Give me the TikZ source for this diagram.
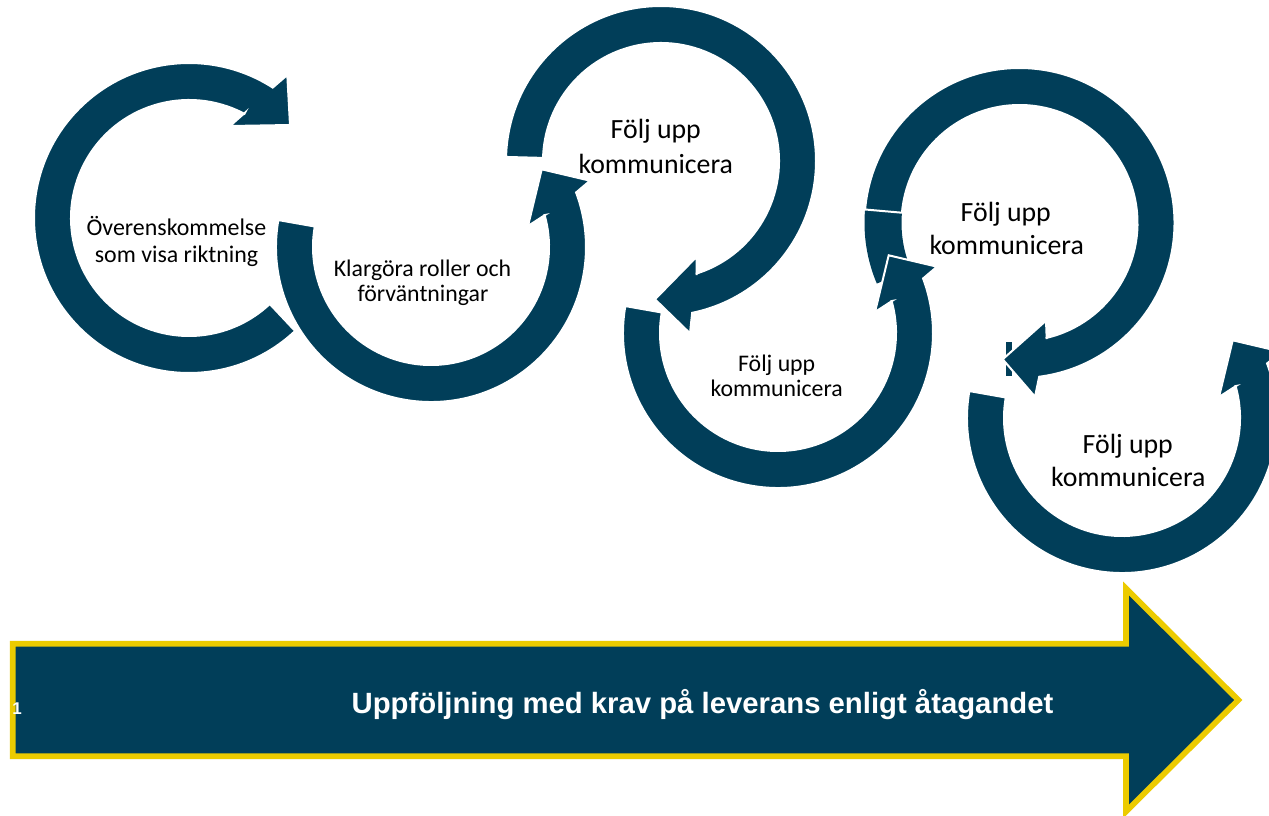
\documentclass[tikz,border=0pt]{standalone}
\usepackage{fontspec}
\setmainfont{Carlito}
\newfontfamily\arialfont{Liberation Sans}
\usetikzlibrary{calc}
\definecolor{navy}{RGB}{1,62,89}
\definecolor{gold}{RGB}{236,203,0}
\tikzset{
  ring/.style={fill=navy, draw=white, line width=2pt, line join=miter},
  plainring/.style={fill=navy},
  lbl/.style={inner sep=0pt, anchor=base, text=black},
  bigarrow/.style={fill=navy, draw=gold, line width=5.7pt, line join=miter},
}
\newcommand\smalltxt{\fontsize{23.8}{26}\selectfont}
\newcommand\bigtxt{\fontsize{27.8}{32}\selectfont}
\begin{document}
\begin{tikzpicture}[x=1pt,y=1pt]
\clip (0,0) rectangle (1269,-816);
\fill[white] (0,0) rectangle (1269,-816);
% centres
\coordinate (c1) at (189,-218);
\coordinate (c2) at (431,-247);
\coordinate (c3) at (661,-161);
\coordinate (c4) at (778,-333);
\coordinate (c5) at (1019.5,-223);
\coordinate (c6) at (1122,-418);
% circle 1
\path[ring] ($(c1)+(-46.8:155pt)$) arc[start angle=-46.8, end angle=-302.7, radius=155pt]
  -- (287.3,-75) -- (290,-125) -- (230,-126) -- (245,-112.7)
  -- ($(c1)+(62:118pt)$) arc[start angle=-298, end angle=-46.8, radius=118pt] -- cycle;
% circle 2
\path[ring] ($(c2)+(170:155pt)$) arc[start angle=170, end angle=380.6, radius=155pt]
  -- (590,-180.7) -- (541.7,-169.3) -- (528,-226) -- (545,-215)
  -- ($(c2)+(15.7:118pt)$) arc[start angle=375.7, end angle=170, radius=118pt] -- cycle;
% circle 3
\path[ring] ($(c3)+(178.5:155pt)$) arc[start angle=178.5, end angle=-78.4, radius=155pt]
  -- (690,-333.3) -- (655,-299.3) -- (696.7,-256.7) -- (696.7,-275)
  -- ($(c3)+(-72.5:118pt)$) arc[start angle=-72.5, end angle=178.5, radius=118pt] -- cycle;
% circle 5 (extra piece, small bar, main)
\path[plainring] ($(c5)+(175:155pt)$) arc[start angle=175, end angle=203, radius=155pt]
  -- ($(c5)+(203:118pt)$) arc[start angle=203, end angle=175, radius=118pt] -- cycle;
\path[ring] (1005,-341) rectangle (1013,-377);
\path[ring] ($(c5)+(175:155pt)$) arc[start angle=175, end angle=-82.7, radius=155pt]
  -- (1035,-396.7) -- (1002.7,-359.3) -- (1046,-320.7) -- (1046.7,-339)
  -- ($(c5)+(-76.8:118pt)$) arc[start angle=-76.8, end angle=175, radius=118pt] -- cycle;
% circle 4
\path[ring] ($(c4)+(170:155pt)$) arc[start angle=170, end angle=380.6, radius=155pt]
  -- (937,-266.7) -- (888.7,-255.3) -- (875,-312) -- (892,-301)
  -- ($(c4)+(15.7:118pt)$) arc[start angle=375.7, end angle=170, radius=118pt] -- cycle;
% circle 6
\path[ring] ($(c6)+(170:155pt)$) arc[start angle=170, end angle=380.6, radius=155pt]
  -- (1281,-351.7) -- (1232.7,-340.3) -- (1219,-397) -- (1236,-386)
  -- ($(c6)+(15.7:118pt)$) arc[start angle=375.7, end angle=170, radius=118pt] -- cycle;
% texts
\node[lbl] (t1a) at (176.4,-235) {\fontsize{23.9}{26}\selectfont Överenskommelse};
\node[lbl] (t1b) at (176.5,-262) {\fontsize{23.9}{26}\selectfont som visa riktning};
\node[lbl] (t2a) at (422.5,-276) {\smalltxt Klargöra roller och};
\node[lbl] (t2b) at (423,-301.5) {\smalltxt förväntningar};
\node[lbl] (t3a) at (655.8,-138.3) {\bigtxt Följ upp};
\node[lbl] (t3b) at (655.8,-173.3) {\bigtxt kommunicera};
\node[lbl] (t4a) at (776.7,-371) {\smalltxt Följ upp};
\node[lbl] (t4b) at (776.7,-396) {\smalltxt kommunicera};
\node[lbl] (t5a) at (1005.8,-221.7) {\bigtxt Följ upp};
\node[lbl] (t5b) at (1006.7,-254) {\bigtxt kommunicera};
\node[lbl] (t6a) at (1127.8,-453.3) {\bigtxt Följ upp};
\node[lbl] (t6b) at (1128.3,-486.7) {\bigtxt kommunicera};
% big arrow
\path[bigarrow] (12.8,-643.8) -- (1126,-643.8) -- (1126,-588.5) -- (1238.3,-700)
  -- (1126,-811.5) -- (1126,-756.2) -- (12.8,-756.2) -- cycle;
\node[inner sep=0pt, anchor=base, text=white] (arrowtxt) at (702.5,-713.5)
  {\arialfont\bfseries\fontsize{29.3}{34}\selectfont Uppföljning med krav på leverans enligt åtagandet};
\node[inner sep=0pt, anchor=base, text=white] (num) at (17,-714)
  {\arialfont\bfseries\fontsize{17}{20}\selectfont 1};
\end{tikzpicture}
\end{document}
